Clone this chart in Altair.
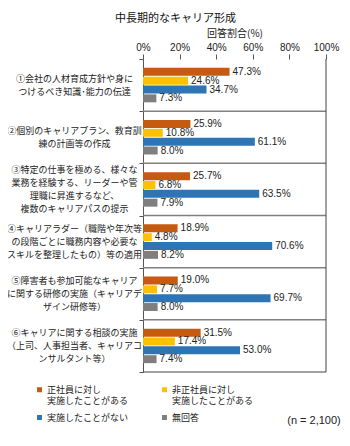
import altair as alt
import pandas as pd

categories = [
    "①会社の人材育成方針や身に\nつけるべき知識･能力の伝達",
    "②個別のキャリアプラン、教育訓\n練の計画等の作成",
    "③特定の仕事を極める、様々な\n業務を経験する、リーダーや管\n理職に昇進するなど、\n複数のキャリアパスの提示",
    "④キャリアラダー（職階や年次等\nの段階ごとに職務内容や必要な\nスキルを整理したもの）等の適用",
    "⑤障害者も参加可能なキャリア\nに関する研修の実施（キャリアデ\nザイン研修等）",
    "⑥キャリアに関する相談の実施\n（上司、人事担当者、キャリアコ\nンサルタント等）",
]
series = [
    "正社員に対し\n実施したことがある",
    "非正社員に対し\n実施したことがある",
    "実施したことがない",
    "無回答",
]
regular = [47.3, 25.9, 25.7, 18.9, 19.0, 31.5]
nonregular = [24.6, 10.8, 6.8, 4.8, 7.7, 17.4]
never = [34.7, 61.1, 63.5, 70.6, 69.7, 53.0]
noanswer = [7.3, 8.0, 7.9, 8.2, 8.0, 7.4]
colors = ["#C55A11", "#FFC000", "#2E75B6", "#7F7F7F"]
x_ticks = [0, 20, 40, 60, 80, 100]
title_text = "中長期的なキャリア形成"
x_title = "回答割合(%)"
note = "(n = 2,100)"

rows = []
for i, c in enumerate(categories):
    for j, (s, vals) in enumerate(zip(series, [regular, nonregular, never, noanswer])):
        rows.append({"cat": c, "series": s, "value": vals[i], "ci": i, "si": j})
df = pd.DataFrame(rows)

W, H = 183, 313
JP = "Noto Sans CJK JP"
LAT = "Liberation Sans"
LH = 13

x_scale = alt.Scale(domain=[0, 100])
x_axis = alt.Axis(
    orient="top", values=x_ticks, labelExpr="datum.value + '%'",
    title=x_title, titleFont=JP, titleFontSize=10, titleFontWeight="normal",
    titleColor="#222", titlePadding=4, labelOverlap=False, labelFlush=False,
    labelFont=LAT, labelFontSize=10, labelColor="#222", labelPadding=2,
    domain=False, grid=False, tickSize=5, tickColor="#555",
)
nlines = "length(split(datum.label, '\\n'))"
y_scale = alt.Scale(paddingInner=0, paddingOuter=0)
y_axis = alt.Axis(
    title=None, labelExpr="split(datum.label, '\\n')", labelAlign="center",
    labelPadding=65, labelLineHeight=LH, labelFontSize=9, labelFont=JP,
    labelColor="#222", labelLimit=400, labelOverlap=False,
    labelOffset={
        "condition": [
            {"test": nlines + " == 4", "value": -1.5 * LH},
            {"test": nlines + " == 3", "value": -1.0 * LH},
        ],
        "value": -0.5 * LH,
    },
    tickBand="extent", tickSize=4,
    tickColor="#555", domainColor="#555", grid=False,
)
yoff = alt.YOffset("series:N", sort=series,
                   scale=alt.Scale(paddingInner=0.1, paddingOuter=1))

base = alt.Chart(df)

bars = base.mark_bar().encode(
    x=alt.X("value:Q", scale=x_scale, axis=x_axis),
    y=alt.Y("cat:N", sort=categories, scale=y_scale, axis=y_axis),
    yOffset=yoff,
    color=alt.Color(
        "series:N", sort=series,
        scale=alt.Scale(domain=series, range=colors),
        legend=alt.Legend(
            title=None, orient="none", legendX=-108, legendY=326, columns=2,
            direction="horizontal",
            symbolType="square", symbolSize=25, symbolStrokeWidth=0,
            labelFontSize=9, labelFont=JP, labelColor="#222",
            labelExpr="indexof(datum.label, '\\n') >= 0 ? split(datum.label, '\\n') : [datum.label, ' ']",
            labelLimit=300, labelBaseline="middle",
            columnPadding=31, rowPadding=7, labelOffset=3,
        ),
    ),
)

labels = base.transform_calculate(
    label="format(datum.value, '.1f') + '%'"
).mark_text(align="left", baseline="middle", dx=3, fontSize=10, font=LAT,
            color="#222").encode(
    x=alt.X("value:Q", scale=x_scale, axis=x_axis),
    y=alt.Y("cat:N", sort=categories, scale=y_scale, axis=y_axis),
    yOffset=yoff, text="label:N"
)

sep = base.transform_filter("datum.ci > 0 && datum.si == 0").mark_rule(
    color="#808080", strokeWidth=1.5
).encode(y=alt.Y("cat:N", sort=categories, bandPosition=0, scale=y_scale,
                 axis=y_axis))

right = alt.Chart(pd.DataFrame({"v": [100]})).mark_rule(color="#444").encode(
    x=alt.X("v:Q", scale=x_scale, axis=x_axis))
bottom = alt.Chart(pd.DataFrame({"v": [0]})).mark_rule(color="#444").encode(
    y=alt.value(H), x=alt.value(0), x2=alt.value(W))

note_mark = alt.Chart(pd.DataFrame({"t": [note]})).mark_text(
    fontSize=11, font=LAT, color="#222", align="center", baseline="middle"
).encode(x=alt.value(171), y=alt.value(362), text="t:N")

chart = alt.layer(sep, bars, labels, right, bottom, note_mark).properties(
    width=W, height=H,
    title=alt.TitleParams(text=title_text, anchor="middle", dx=-59, fontSize=11,
                          font=JP, fontWeight="normal", color="#111", offset=4),
    autosize=alt.AutoSizeParams(type="none"),
    padding={"left": 135, "top": 51, "right": 16, "bottom": 66},
).configure_view(stroke=None)

chart.save("out.html", embed_options={"renderer": "svg", "actions": False})
